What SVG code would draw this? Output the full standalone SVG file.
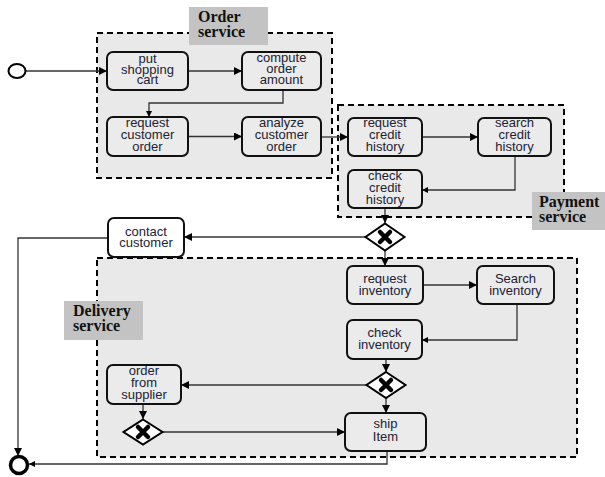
<svg xmlns="http://www.w3.org/2000/svg" width="605" height="477" viewBox="0 0 605 477">
<defs>
<marker id="ah" markerUnits="userSpaceOnUse" markerWidth="9" markerHeight="9" refX="8" refY="4" orient="auto"><path d="M0,0 L8,4 L0,8 z" fill="#000"/></marker>
<marker id="ahs" markerUnits="userSpaceOnUse" markerWidth="7" markerHeight="7" refX="6" refY="3" orient="auto"><path d="M0,0 L6,3 L0,6 z" fill="#000"/></marker>
</defs>
<style>
.pool{fill:#e9e9e9;stroke:#000;stroke-width:2;stroke-dasharray:6,4}
.lbl{fill:#c3c3c3}
.lt{font-family:"Liberation Serif",serif;font-weight:bold;font-size:16px;fill:#111}
.task{fill:#ebebeb;stroke:#111;stroke-width:2}
.white{fill:#fff}
.tt{font-family:"Liberation Sans",Arial,sans-serif;font-size:13px;fill:#222233;text-anchor:middle}
.gw{fill:#fff;stroke:#000;stroke-width:2}
.gx{stroke:#000;stroke-width:4.5;stroke-linecap:round}
.c{fill:none;stroke:#333;stroke-width:1.3}
</style>
<rect width="605" height="477" fill="#fff"/>

<g id="order-service">
<rect class="pool" x="97" y="33" width="235" height="145"/>
<rect class="lbl" x="189" y="7" width="79" height="38"/>
<text class="lt" x="198" y="22">Order</text>
<text class="lt" x="198" y="37">service</text>
</g>
<g id="payment-service">
<rect class="pool" x="338" y="105" width="226" height="112"/>
<rect class="lbl" x="532" y="192" width="73" height="38"/>
<text class="lt" x="539" y="207">Payment</text>
<text class="lt" x="539" y="222">service</text>
</g>
<g id="delivery-service">
<rect class="pool" x="97" y="258" width="480" height="199"/>
<rect class="lbl" x="64" y="301" width="79" height="39"/>
<text class="lt" x="73" y="316">Delivery</text>
<text class="lt" x="73" y="331">service</text>
</g>

<g id="connectors">
<path class="c" d="M25.5 71 H107" marker-end="url(#ah)"/>
<path class="c" d="M188 71 H242" marker-end="url(#ah)"/>
<path class="c" d="M283 90 V103 H149 V117" marker-end="url(#ahs)"/>
<path class="c" d="M188 136.5 H242" marker-end="url(#ah)"/>
<path class="c" d="M321 137 H348" marker-end="url(#ah)"/>
<path class="c" d="M422 137 H478" marker-end="url(#ah)"/>
<path class="c" d="M515 156 V190 H422" marker-end="url(#ahs)"/>
<path class="c" d="M385 208 V223" marker-end="url(#ah)"/>
<path class="c" d="M366 237 H184" marker-end="url(#ah)"/>
<path class="c" d="M108 238 H18 V456" marker-end="url(#ah)"/>
<path class="c" d="M385 250 V266" marker-end="url(#ah)"/>
<path class="c" d="M423 285 H477" marker-end="url(#ah)"/>
<path class="c" d="M517 304 V340 H422" marker-end="url(#ahs)"/>
<path class="c" d="M386 359 V372" marker-end="url(#ah)"/>
<path class="c" d="M366 385 H181" marker-end="url(#ah)"/>
<path class="c" d="M386 398 V413" marker-end="url(#ah)"/>
<path class="c" d="M143 404 V419" marker-end="url(#ah)"/>
<path class="c" d="M163 432 H345" marker-end="url(#ah)"/>
<path class="c" d="M387 451 V464 H29" marker-end="url(#ahs)"/>
</g>

<g id="start"><ellipse cx="17" cy="71" rx="8.5" ry="7" fill="#fff" stroke="#000" stroke-width="2"/></g>
<g id="end"><circle cx="19" cy="465" r="8.5" fill="#fff" stroke="#000" stroke-width="3.5"/></g>

<g id="put-shopping-cart"><rect class="task" x="107" y="52" width="81" height="38" rx="6"/>
<text class="tt"><tspan x="147.5" y="63">put</tspan><tspan x="147.5" y="74">shopping</tspan><tspan x="147.5" y="84">cart</tspan></text></g>
<g id="compute-order-amount"><rect class="task" x="242" y="52" width="79" height="38" rx="6"/>
<text class="tt"><tspan x="281.5" y="62">compute</tspan><tspan x="281.5" y="73">order</tspan><tspan x="281.5" y="84">amount</tspan></text></g>
<g id="request-customer-order"><rect class="task" x="107" y="117" width="81" height="39" rx="6"/>
<text class="tt"><tspan x="147.5" y="127">request</tspan><tspan x="147.5" y="139">customer</tspan><tspan x="147.5" y="151">order</tspan></text></g>
<g id="analyze-customer-order"><rect class="task" x="242" y="117" width="79" height="39" rx="6"/>
<text class="tt"><tspan x="281.5" y="127">analyze</tspan><tspan x="281.5" y="139">customer</tspan><tspan x="281.5" y="151">order</tspan></text></g>

<g id="request-credit-history"><rect class="task" x="348" y="118" width="74" height="38" rx="6"/>
<text class="tt"><tspan x="385" y="127">request</tspan><tspan x="385" y="139">credit</tspan><tspan x="385" y="151">history</tspan></text></g>
<g id="search-credit-history"><rect class="task" x="478" y="118" width="73" height="38" rx="6"/>
<text class="tt"><tspan x="514.5" y="127">search</tspan><tspan x="514.5" y="139">credit</tspan><tspan x="514.5" y="151">history</tspan></text></g>
<g id="check-credit-history"><rect class="task" x="348" y="170" width="74" height="38" rx="6"/>
<text class="tt"><tspan x="385" y="180">check</tspan><tspan x="385" y="192">credit</tspan><tspan x="385" y="204">history</tspan></text></g>

<g id="gateway-payment"><path class="gw" d="M385 223.5 L404.5 237 L385 250.5 L365.5 237 Z"/>
<path class="gx" d="M380 232 L390 242 M390 232 L380 242"/></g>

<g id="contact-customer"><rect class="task white" x="108" y="218" width="76" height="39" rx="6"/>
<text class="tt"><tspan x="146" y="236">contact</tspan><tspan x="146" y="247">customer</tspan></text></g>

<g id="request-inventory"><rect class="task" x="347" y="266" width="76" height="38" rx="6"/>
<text class="tt"><tspan x="385" y="283">request</tspan><tspan x="385" y="295">inventory</tspan></text></g>
<g id="search-inventory"><rect class="task" x="477" y="266" width="77" height="38" rx="6"/>
<text class="tt"><tspan x="515.5" y="283">Search</tspan><tspan x="515.5" y="295">inventory</tspan></text></g>
<g id="check-inventory"><rect class="task" x="347" y="320" width="75" height="39" rx="6"/>
<text class="tt"><tspan x="384.5" y="337">check</tspan><tspan x="384.5" y="349">inventory</tspan></text></g>

<g id="gateway-inventory"><path class="gw" d="M386 372 L405.5 385 L386 398 L366.5 385 Z"/>
<path class="gx" d="M381 380 L391 390 M391 380 L381 390"/></g>

<g id="order-from-supplier"><rect class="task" x="107" y="365" width="74" height="39" rx="6"/>
<text class="tt"><tspan x="144" y="375">order</tspan><tspan x="144" y="387">from</tspan><tspan x="144" y="399">supplier</tspan></text></g>

<g id="gateway-supplier"><path class="gw" d="M143 419.5 L162.5 432 L143 444.5 L123.5 432 Z"/>
<path class="gx" d="M138 427 L148 437 M148 427 L138 437"/></g>

<g id="ship-item"><rect class="task" x="345" y="413" width="81" height="38" rx="6"/>
<text class="tt"><tspan x="385.5" y="428">ship</tspan><tspan x="385.5" y="441">Item</tspan></text></g>
</svg>
